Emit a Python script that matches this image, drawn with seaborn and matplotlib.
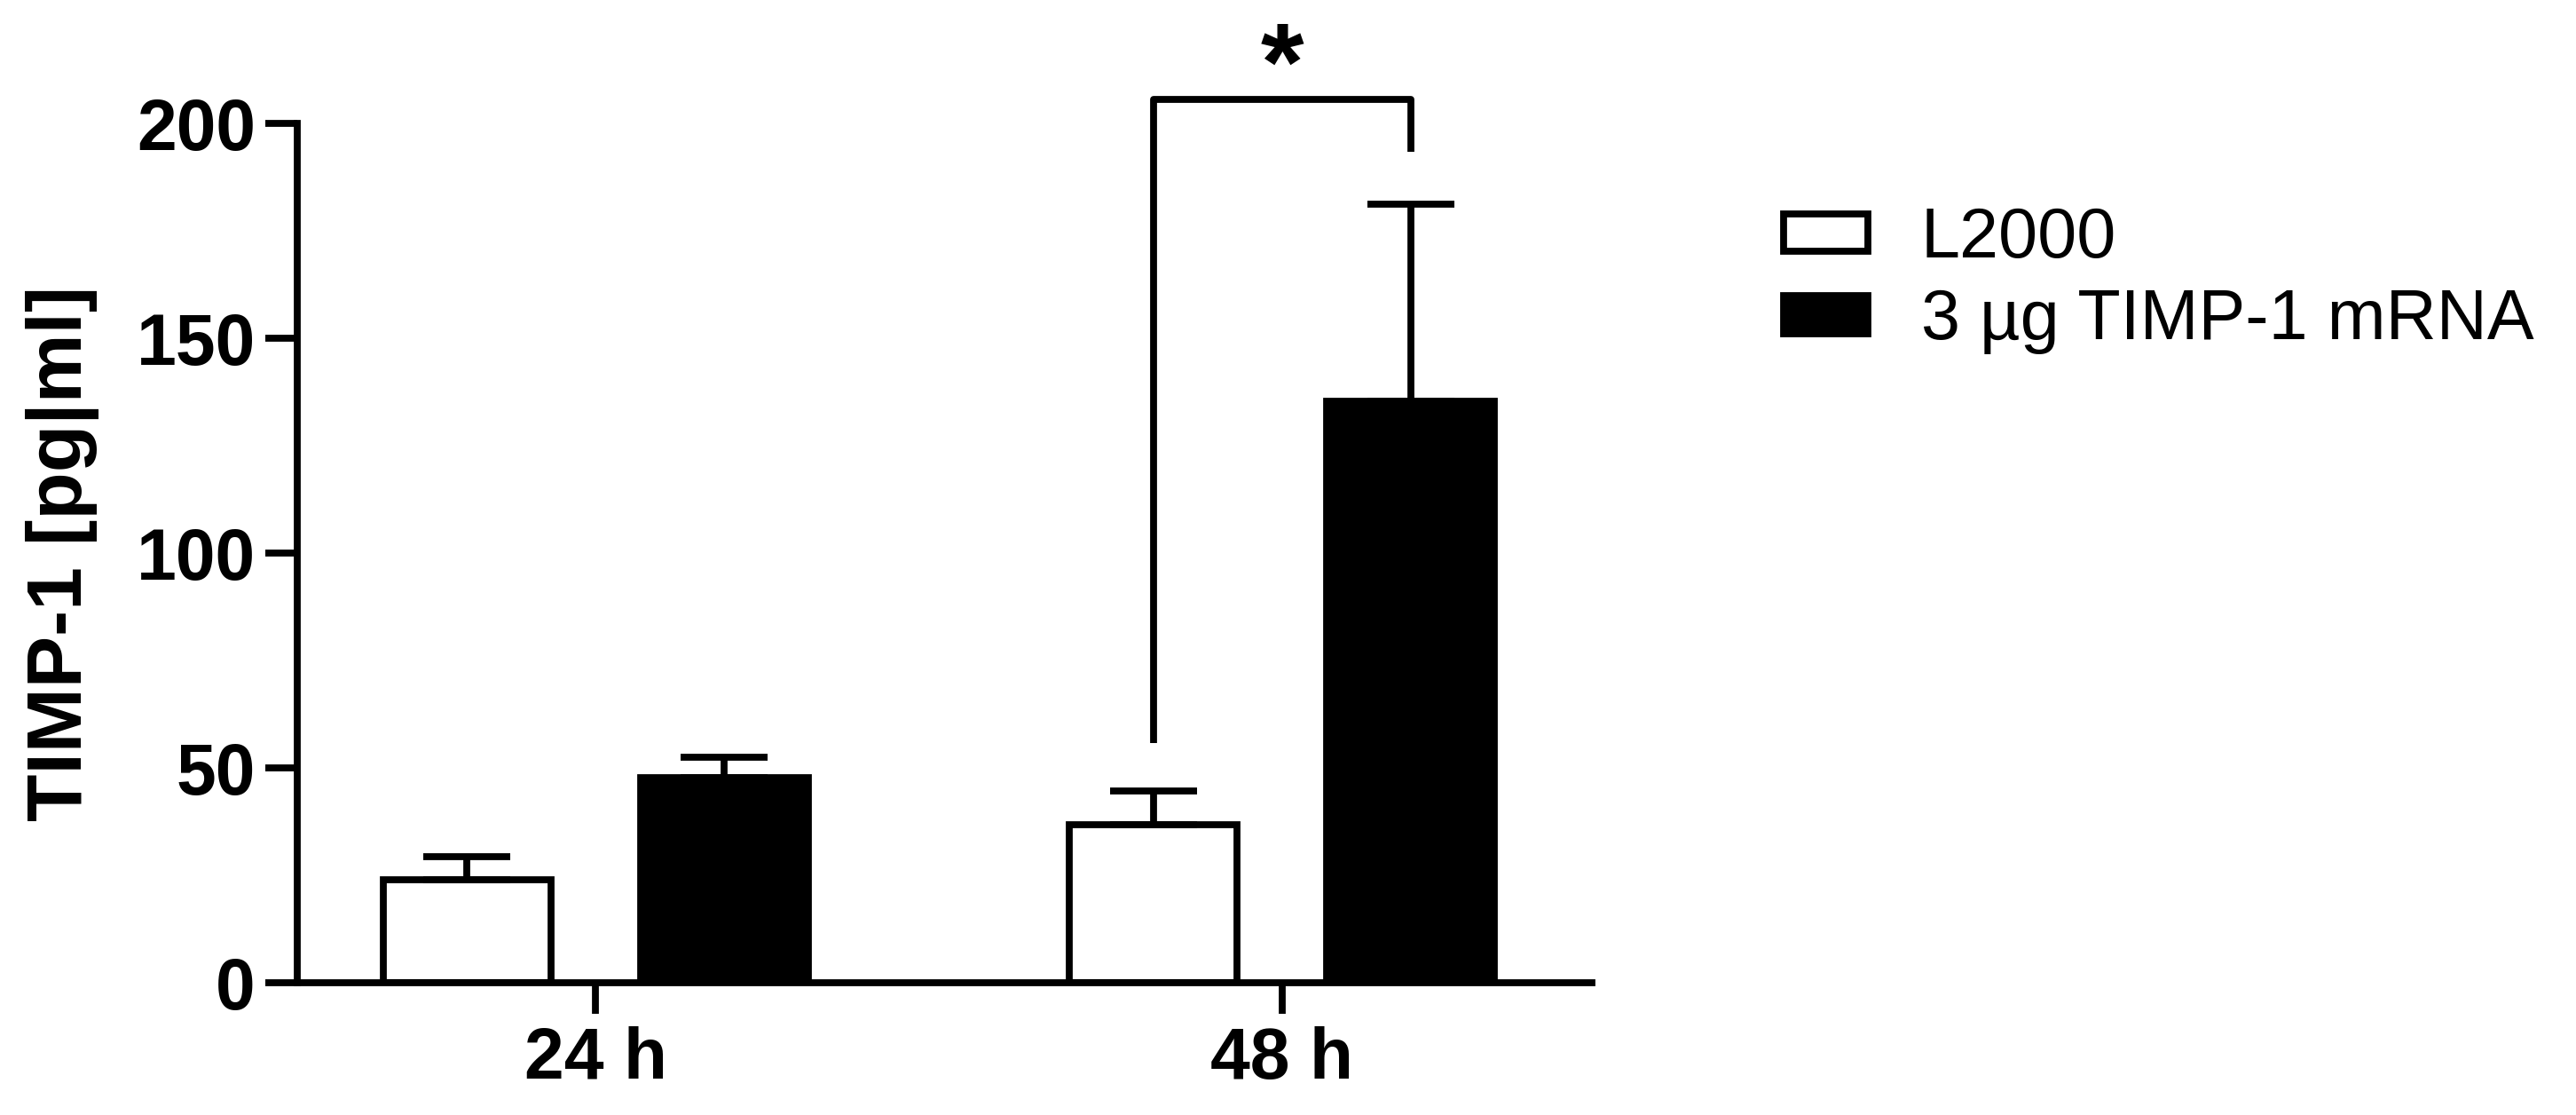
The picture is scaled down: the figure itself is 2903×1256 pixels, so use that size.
import matplotlib
matplotlib.use("Agg")
import matplotlib.pyplot as plt
import numpy as np
import pandas as pd
import seaborn as sns

times = ["24 h", "48 h"]
groups = ["L2000", "3 \u00b5g TIMP-1 mRNA"]
l2000_mean = [24.0, 36.7]
l2000_err = [5.4, 8.0]
timp_mean = [47.8, 135.4]
timp_err = [4.6, 45.9]
bracket_y = [55.8, 205.7, 193.5]
star_label = "*"

sns.set_style("ticks")
plt.rcParams["font.family"] = ["Liberation Sans", "DejaVu Sans"]
plt.rcParams.update({"text.color": "black", "axes.labelcolor": "black",
                     "xtick.color": "black", "ytick.color": "black",
                     "axes.edgecolor": "black"})

df = pd.DataFrame({
    "time": times * 2,
    "group": [groups[0]] * 2 + [groups[1]] * 2,
    "value": l2000_mean + timp_mean,
})

lw = 5.6
fig = plt.figure(figsize=(29.03, 12.56), dpi=100)
ax = fig.add_axes([0.1154, 0.1186, 0.5026, 0.7706])

sns.barplot(data=df, x="time", y="value", hue="group", hue_order=groups,
            palette={groups[0]: "white", groups[1]: "black"},
            edgecolor="black", linewidth=lw, width=0.75, gap=0.35,
            errorbar=None, ax=ax, saturation=1)

errs = [l2000_err, timp_err]
centers = []
for cont, err in zip(ax.containers, errs):
    xs = [b.get_x() + b.get_width() / 2 for b in cont]
    ys = [b.get_height() for b in cont]
    centers.append(xs)
    ax.errorbar(xs, ys, yerr=[np.zeros(len(err)), err], fmt="none",
                ecolor="black", elinewidth=lw, capsize=35, capthick=lw, zorder=1)

# significance bracket at 48 h
xl, xr = centers[0][1], centers[1][1]
ax.plot([xl, xl, xr, xr], [bracket_y[0], bracket_y[1], bracket_y[1], bracket_y[2]],
        color="black", lw=lw, clip_on=False, solid_capstyle="butt")
ax.text((xl + xr) / 2, 212, star_label, ha="center", va="center",
        fontsize=90, fontweight="bold", clip_on=False)

ax.set_xlim(-0.435, 1.452)
ax.set_ylim(0, 200)
ax.set_yticks([0, 50, 100, 150, 200])
ax.set_xlabel("")
ax.set_ylabel("TIMP-1 [pg|ml]", fontsize=63, fontweight="bold", labelpad=30)
sns.despine(ax=ax)
for s in ["left", "bottom"]:
    ax.spines[s].set_linewidth(lw)
ax.tick_params(axis="y", length=26, width=lw, labelsize=58, pad=8)
ax.tick_params(axis="x", length=25, width=lw, labelsize=58, pad=10)
for t in ax.get_xticklabels() + ax.get_yticklabels():
    t.set_fontweight("bold")

handles, labels = ax.get_legend_handles_labels()
ax.legend(handles, labels, loc="upper left", bbox_to_anchor=(0.668, 0.872),
          bbox_transform=fig.transFigure, frameon=False, fontsize=57,
          handlelength=1.2, handleheight=0.45, handletextpad=0.75,
          labelspacing=0.22)

fig.savefig("out.png", dpi=100)
